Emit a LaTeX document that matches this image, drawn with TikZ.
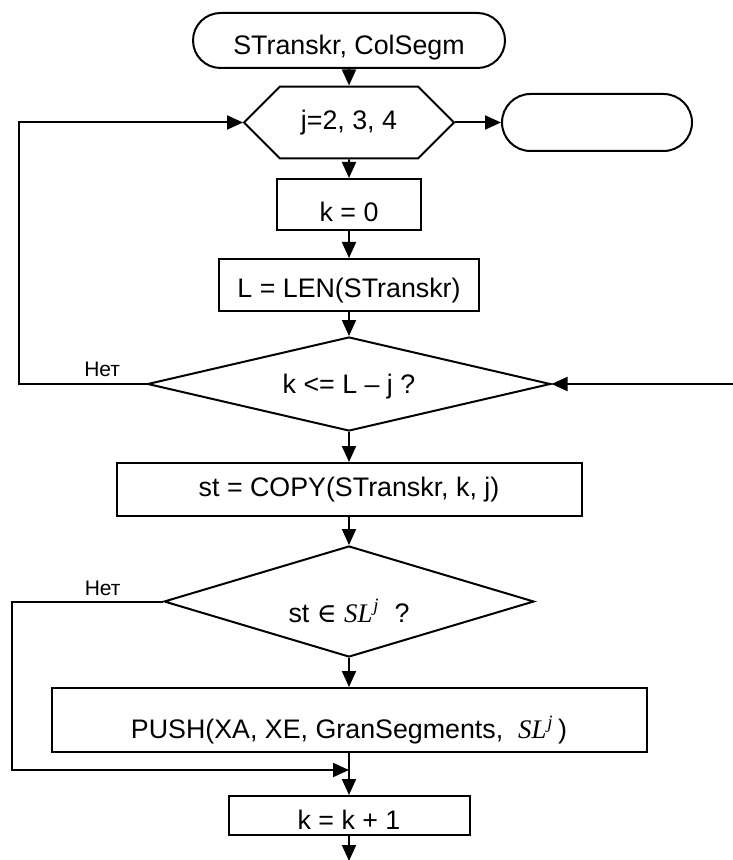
\documentclass[tikz,border=0pt]{standalone}
\usepackage{fontspec}
\setmainfont{Liberation Sans}
\newfontfamily\timesfont{Liberation Serif}
\newfontfamily\symbolfont{DejaVu Serif}
\usepackage{tikz}
\usetikzlibrary{positioning}
\usetikzlibrary{shapes.geometric}
\usetikzlibrary{shapes.misc}
\usetikzlibrary{arrows.meta}
\def\SLj{{\timesfont\itshape SL\textsuperscript{\kern0.5pt j}}}
\tikzstyle{terminal} = [draw, rounded rectangle, line width=1pt, inner sep=0pt, font=\fontsize{13.4}{15}\selectfont]
\tikzstyle{loophead} = [draw, chamfered rectangle, chamfered rectangle xsep=21pt, chamfered rectangle ysep=11.75pt, line width=1pt, inner sep=0pt, minimum width=105pt, minimum height=23.5pt, font=\fontsize{13.4}{15}\selectfont]
\tikzstyle{process} = [draw, rectangle, line width=1pt, inner sep=0pt, font=\fontsize{13.4}{15}\selectfont]
\tikzstyle{decision} = [draw, diamond, line width=1pt, inner sep=0pt, font=\fontsize{13.4}{15}\selectfont]
\tikzstyle{flowline} = [-{Triangle[length=8pt,width=7pt]}, line width=1pt]
\tikzstyle{remark} = [inner sep=0pt, font=\fontsize{10.5}{12}\selectfont]

\begin{document}
\begin{tikzpicture}[x=0.5pt,y=-0.5pt]
                        \useasboundingbox (0,0) rectangle (732,860);

                        \node[terminal, minimum width=156pt, minimum height=27.5pt, text height=13.8pt, text depth=0pt](start) at (349,40.5) {STranskr, ColSegm};
                        \node[loophead, below of=start, node distance=41pt](cycle) {j=2, 3, 4};
                        \node[terminal, right of=cycle, node distance=124pt, minimum width=95pt, minimum height=28.5pt](finish) {};
                        \node[process, below of=cycle, node distance=41pt, minimum width=72pt, minimum height=25.5pt, text height=17.3pt, text depth=0pt](kzero) {k = 0};
                        \node[process, below of=kzero, node distance=40.25pt, minimum width=130pt, minimum height=26pt, text height=12.9pt, text depth=0pt](len) {L = LEN(STranskr)};
                        \node[decision, below of=len, node distance=49.5pt, minimum width=201.5pt, minimum height=47pt, aspect=4.29, text height=9.6pt, text depth=0pt](check) {k <= L – j ?};
                        \node[process, below of=check, node distance=52.75pt, minimum width=232.5pt, minimum height=26.5pt](copy) {st = COPY(STranskr, k, j)};
                        \node[decision, below of=copy, node distance=56pt, minimum width=185pt, minimum height=55.5pt, aspect=3.33, text height=20.8pt, text depth=0pt](member) {st {\symbolfont ∈} \SLj\ \ ?};
                        \node[process, below of=member, node distance=59.25pt, minimum width=297.5pt, minimum height=32pt, text height=18.9pt, text depth=0pt](push) {PUSH(XA, XE, GranSegments, \ \SLj\,)};
                        \node[process, below of=push, node distance=47.75pt, minimum width=120.5pt, minimum height=19.5pt, text height=13.8pt, text depth=0pt](kinc) {k = k + 1};

                        \node[remark, above left=3.5pt and 13pt of check.west](noA) {Нет};
                        \node[remark, above left=2.75pt and 21pt of member.west](noB) {Нет};

                        \coordinate[left=64pt of check.west](turnA);
                        \coordinate[right=90.5pt of check.east](back);
                        \coordinate[left=75.5pt of member.west](turnB);
                        \coordinate[below=8.5pt of push.south](merge);
                        \coordinate[below=12.5pt of kinc.south](out);

                        \draw[flowline](start) -- (cycle);
                        \draw[flowline](cycle) -- (kzero);
                        \draw[flowline](cycle.east) -- (finish.west);
                        \draw[flowline](kzero) -- (len);
                        \draw[flowline](len) -- (check);
                        \draw[flowline](check) -- (copy);
                        \draw[flowline](copy) -- (member);
                        \draw[flowline](member) -- (push);
                        \draw[flowline](push) -- (kinc);
                        \draw[flowline](kinc) -- (out);
                        \draw[flowline](check.west) -- (turnA) |- (cycle.west);
                        \draw[flowline](back) -- (check.east);
                        \draw[flowline](member.west) -- (turnB) |- (merge);
                    \end{tikzpicture}
\end{document}
